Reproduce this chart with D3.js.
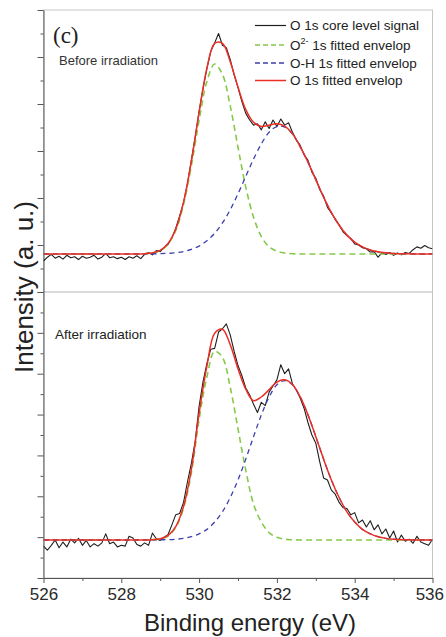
<!DOCTYPE html>
<html>
<head>
<meta charset="utf-8">
<script src="https://cdn.jsdelivr.net/npm/d3@7/dist/d3.min.js"></script>
<style>
  html, body { margin: 0; padding: 0; background: #ffffff; }
  svg { display: block; }
  text { font-family: "Liberation Sans", Arial, sans-serif; }
</style>
</head>
<body>
<svg id="chart" width="446" height="637"></svg>
<script>
// O 1s XPS spectra, before and after irradiation, with two-component fits.

// Measured signal, sampled every 0.1 eV from 526.0 to 536.0 eV
const signalStart = 526.0;
const signalStep = 0.1;
const signalBefore = [
  0.66,0.74,0.80,0.72,0.76,0.70,0.78,0.73,0.75,0.69,
  0.76,0.72,0.74,0.78,0.70,0.74,0.82,0.73,0.75,0.71,
  0.74,0.69,0.75,0.72,0.77,0.71,0.80,0.84,0.79,0.88,
  0.86,0.95,1.01,1.15,1.36,1.62,1.90,2.30,2.80,3.30,
  3.85,4.32,4.75,5.12,5.30,5.50,5.25,5.20,4.95,4.62,
  4.35,4.05,3.80,3.66,3.55,3.58,3.45,3.62,3.48,3.66,
  3.52,3.68,3.55,3.60,3.40,3.24,3.12,2.92,2.80,2.55,
  2.42,2.18,2.04,1.80,1.68,1.55,1.43,1.28,1.20,1.14,
  1.02,1.00,0.94,0.92,0.85,0.86,0.74,0.83,0.80,0.84,
  0.78,0.83,0.79,0.84,0.82,0.90,0.96,0.93,0.99,0.94,
  0.92
];
const signalAfter = [
  0.78,0.68,0.80,0.93,0.74,0.88,0.76,0.95,0.86,0.97,
  0.80,0.92,0.76,0.84,0.78,0.86,1.08,0.84,0.88,0.76,
  0.80,0.78,1.02,0.98,0.82,0.78,0.86,0.80,1.10,0.96,
  0.92,1.00,1.06,1.30,1.55,1.58,1.85,2.35,2.80,3.35,
  4.20,4.80,5.25,5.60,5.62,6.02,6.10,6.22,5.95,5.55,
  5.20,4.95,4.65,4.48,4.25,4.05,4.30,4.22,4.55,4.70,
  4.85,5.22,5.00,5.12,4.75,4.60,4.40,4.15,3.80,3.50,
  3.30,2.85,2.45,2.40,2.15,2.05,1.85,1.72,1.70,1.55,
  1.60,1.35,1.42,1.25,1.40,1.18,1.30,1.08,1.20,0.98,
  1.15,0.88,1.05,0.90,0.95,0.85,1.02,0.88,0.84,0.80,
  0.95
];

// Fitted components (height above the flat background), every 0.2 eV
const fitStart = 526.0;
const fitStep = 0.2;
const baseBefore = 0.81;
const o2Before = [
  0,0,0,0,0,0,0,0,0,0,0,0,0,
  0.005,0.02,0.07,0.21,0.50,1.05,1.87,2.84,3.67,4.04,
  3.82,3.15,2.27,1.42,0.78,0.37,0.15,0.06,0.02,0.005,
  0,0,0,0,0,0,0,0,0,0,0,0,0,0,0,0,0,0,0
];
const ohBefore = [
  0,0,0,0,0,0,0,0,0,0,0,0,0,
  0.001,0.003,0.006,0.013,0.026,0.051,0.095,0.167,0.28,0.44,
  0.66,0.94,1.28,1.65,2.02,2.34,2.59,2.71,2.70,2.55,
  2.28,1.95,1.58,1.21,0.88,0.61,0.40,0.25,0.15,0.085,
  0.045,0.023,0.011,0.005,0.002,0,0,0
];
const baseAfter = 0.93;
const o2After = [
  0,0,0,0,0,0,0,0,0,0,0,0,0,
  0.001,0.006,0.026,0.098,0.31,0.78,1.64,2.95,3.99,4.62,
  4.47,3.74,2.72,1.71,0.88,0.44,0.18,0.065,0.02,0.005,
  0.001,0,0,0,0,0,0,0,0,0,0,0,0,0,0,0,0,0
];
const ohAfter = [
  0,0,0,0,0,0,0,0,0,0,0,0,0,
  0.001,0.002,0.004,0.009,0.019,0.04,0.08,0.15,0.26,0.44,
  0.69,1.04,1.47,1.98,2.53,3.06,3.50,3.80,3.90,3.80,
  3.50,3.06,2.53,1.98,1.47,1.04,0.69,0.44,0.26,0.15,
  0.08,0.04,0.019,0.009,0.004,0.0016,0.0006,0.0002
];

const xTickLabels = [526, 528, 530, 532, 534, 536];
const xMinorTicks = [527, 529, 531, 533, 535];
const legendLabels = ["O 1s core level signal", "O2- 1s fitted envelop", "O-H 1s fitted envelop", "O 1s fitted envelop"];
const panelLabels = ["Before irradiation", "After irradiation"];

const colors = { signal: "#1e1e1e", o2: "#86c94a", oh: "#3c3fae", total: "#ec2f26", axis: "#555555", frame: "#c6c6c6" };

const svg = d3.select("#chart");
const plotL = 43.5, plotR = 432.5, plotT = 10, plotM = 292, plotB = 578;

const x = d3.scaleLinear().domain([526, 536]).range([plotL, plotR]);
const yTop = d3.scaleLinear().domain([0, 6]).range([plotM, plotT]);
const yBot = d3.scaleLinear().domain([0, 7]).range([plotB, plotM]);

// clip regions for the two stacked panels
const defs = svg.append("defs");
defs.append("clipPath").attr("id", "clipTop").append("rect")
  .attr("x", plotL).attr("y", plotT).attr("width", plotR - plotL).attr("height", plotM - plotT);
defs.append("clipPath").attr("id", "clipBot").append("rect")
  .attr("x", plotL).attr("y", plotM).attr("width", plotR - plotL).attr("height", plotB - plotM);

// frame and panel separator
svg.append("rect").attr("x", plotL).attr("y", plotT).attr("width", plotR - plotL).attr("height", plotB - plotT)
  .attr("fill", "none").attr("stroke", colors.frame).attr("stroke-width", 1);
svg.append("line").attr("x1", plotL).attr("x2", plotR).attr("y1", plotM).attr("y2", plotM)
  .attr("stroke", "#b4b4b4").attr("stroke-width", 1);

function styleAxis(g) {
  g.selectAll("path, line").attr("stroke", colors.axis).attr("stroke-width", 1);
  g.selectAll("text").attr("fill", "#2a2a2a").style("font-size", "17px").style("font-family", "Liberation Sans, Arial, sans-serif");
}

// y axes (unlabelled, major + minor ticks) for each panel
function drawYAxis(scale, maxVal) {
  const major = d3.range(0, maxVal + 0.01, 1);
  const minor = d3.range(0.5, maxVal, 1);
  svg.append("g").attr("transform", `translate(${plotL},0)`)
    .call(d3.axisLeft(scale).tickValues(major).tickSize(6).tickFormat("").tickSizeOuter(0))
    .call(styleAxis);
  svg.append("g").attr("transform", `translate(${plotL},0)`)
    .call(d3.axisLeft(scale).tickValues(minor).tickSize(3).tickFormat("").tickSizeOuter(0))
    .call(g => g.select(".domain").remove())
    .call(styleAxis);
}
drawYAxis(yTop, 6);
drawYAxis(yBot, 7);

// x axis; the last label is pulled in slightly so it stays inside the page
svg.append("g").attr("transform", `translate(0,${plotB})`)
  .call(d3.axisBottom(x).tickValues(xTickLabels).tickSize(5).tickPadding(5).tickSizeOuter(0).tickFormat(d3.format("d")))
  .call(styleAxis)
  .call(g => g.selectAll(".tick text").filter(d => d === 536).attr("text-anchor", "end").attr("dx", 11));
svg.append("g").attr("transform", `translate(0,${plotB})`)
  .call(d3.axisBottom(x).tickValues(xMinorTicks).tickSize(3).tickFormat("").tickSizeOuter(0))
  .call(g => g.select(".domain").remove())
  .call(styleAxis);

// axis titles
svg.append("text").attr("x", 250).attr("y", 631).attr("text-anchor", "middle")
  .style("font-size", "24px").attr("fill", "#222").text("Binding energy (eV)");
svg.append("text").attr("transform", "translate(33,287) rotate(-90)").attr("text-anchor", "middle")
  .style("font-size", "26px").attr("fill", "#222").text("Intensity (a. u.)");

function drawPanel(yScale, clipId, signal, base, o2, oh) {
  const g = svg.append("g").attr("clip-path", `url(#${clipId})`);
  const sig = signal.map((v, i) => ({ e: signalStart + i * signalStep, v }));
  const fit = o2.map((v, i) => ({ e: fitStart + i * fitStep, o2: base + v, oh: base + oh[i], total: base + v + oh[i] }));

  const smooth = d3.curveCatmullRom.alpha(0.5);
  g.append("path").datum(sig)
    .attr("d", d3.line().x(d => x(d.e)).y(d => yScale(d.v)))
    .attr("fill", "none").attr("stroke", colors.signal).attr("stroke-width", 1.1).attr("stroke-linejoin", "round");
  g.append("path").datum(fit)
    .attr("d", d3.line().curve(smooth).x(d => x(d.e)).y(d => yScale(d.o2)))
    .attr("fill", "none").attr("stroke", colors.o2).attr("stroke-width", 1.6).attr("stroke-dasharray", "6,4");
  g.append("path").datum(fit)
    .attr("d", d3.line().curve(smooth).x(d => x(d.e)).y(d => yScale(d.oh)))
    .attr("fill", "none").attr("stroke", colors.oh).attr("stroke-width", 1.3).attr("stroke-dasharray", "5,4");
  g.append("path").datum(fit)
    .attr("d", d3.line().curve(smooth).x(d => x(d.e)).y(d => yScale(d.total)))
    .attr("fill", "none").attr("stroke", colors.total).attr("stroke-width", 1.5);
}
drawPanel(yTop, "clipTop", signalBefore, baseBefore, o2Before, ohBefore);
drawPanel(yBot, "clipBot", signalAfter, baseAfter, o2After, ohAfter);

// panel annotations
svg.append("text").attr("x", 53).attr("y", 43).style("font-family", "Liberation Serif, Times New Roman, serif")
  .style("font-size", "23px").attr("fill", "#222").text("(c)");
svg.append("text").attr("x", 59).attr("y", 65).style("font-size", "13px").attr("fill", "#333").text(panelLabels[0]);
svg.append("text").attr("x", 55).attr("y", 339).style("font-size", "13.5px").attr("fill", "#222").text(panelLabels[1]);

// legend
const legendRows = [
  { label: legendLabels[0], color: colors.signal, dash: null, w: 1.2, y: 25.5 },
  { label: legendLabels[1], color: colors.o2, dash: "5,3", w: 1.6, y: 45 },
  { label: legendLabels[2], color: colors.oh, dash: "5,3", w: 1.4, y: 63 },
  { label: legendLabels[3], color: colors.total, dash: null, w: 1.5, y: 80.5 }
];
const lg = svg.append("g");
legendRows.forEach(r => {
  lg.append("line").attr("x1", 255).attr("x2", 286).attr("y1", r.y).attr("y2", r.y)
    .attr("stroke", r.color).attr("stroke-width", r.w).attr("stroke-dasharray", r.dash);
  const t = lg.append("text").attr("x", 290).attr("y", r.y + 4.8).style("font-size", "13.5px").attr("fill", "#222");
  if (r.label.startsWith("O2-")) {
    t.append("tspan").text("O");
    t.append("tspan").attr("dy", -5.5).style("font-size", "9px").text("2-");
    t.append("tspan").attr("dy", 5.5).text(r.label.slice(3));
  } else {
    t.text(r.label);
  }
});
</script>
</body>
</html>
